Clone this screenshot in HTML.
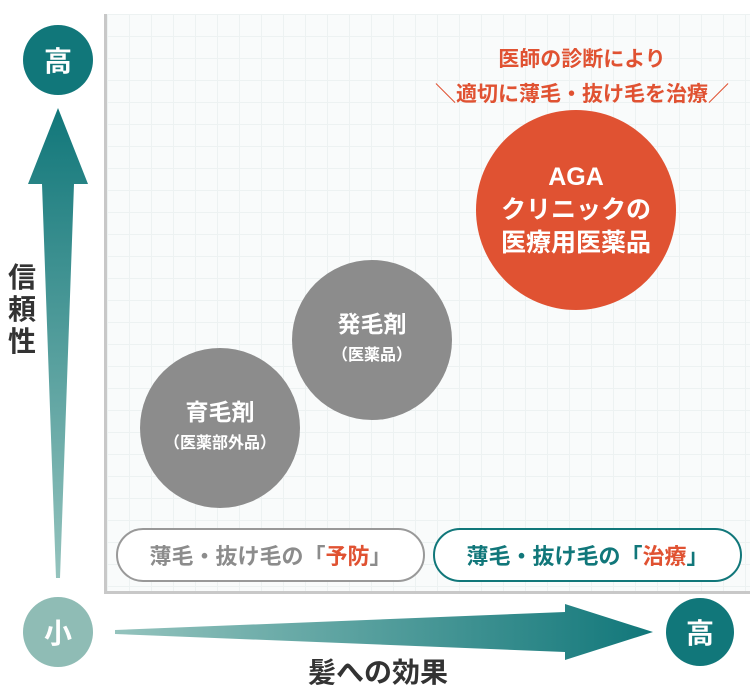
<!DOCTYPE html>
<html><head><meta charset="utf-8"><style>
body{margin:0;width:750px;height:695px;background:#fff;position:relative;overflow:hidden;font-family:"Liberation Sans","Noto Sans CJK JP",sans-serif;font-weight:700}
.a{position:absolute}
.panel{left:104px;top:14px;width:646px;height:577px;background-color:#f9fbfb;background-image:linear-gradient(#edf2f2 1px,transparent 1px),linear-gradient(90deg,#edf2f2 1px,transparent 1px);background-size:22px 22px;border-left:3px solid #c8c8c8;border-bottom:3px solid #c8c8c8}
.c{border-radius:50%;display:flex;flex-direction:column;align-items:center;justify-content:center;color:#fff;text-align:center}
.pill{border-radius:27px;display:flex;align-items:center;justify-content:center;font-size:22px;box-sizing:border-box;background:#fff}
</style></head><body>
<div class="a panel"></div>
<div class="a c" style="left:23px;top:25px;width:70px;height:70px;background:#11777a;font-size:28px">高</div>
<svg class="a" style="left:0;top:0" width="750" height="695">
<defs>
<linearGradient id="gv" x1="0" y1="0" x2="0" y2="1"><stop offset="0" stop-color="#11777a"/><stop offset="1" stop-color="#94c3bd"/></linearGradient>
<linearGradient id="gh" x1="0" y1="0" x2="1" y2="0"><stop offset="0" stop-color="#94c3bd"/><stop offset="1" stop-color="#11777a"/></linearGradient>
</defs>
<polygon points="58,108 88,184 74,184 60,578 56,578 42,184 28,184" fill="url(#gv)"/>
<polygon points="115,630 565,612 565,604 653,632 565,660 565,652 115,634" fill="url(#gh)"/>
</svg>
<div class="a" style="left:6px;top:262px;width:32px;font-size:28px;line-height:32px;color:#333;text-align:center">信<br>頼<br>性</div>
<div class="a c" style="left:23px;top:597px;width:70px;height:70px;background:#8fbcb5;font-size:28px">小</div>
<div class="a c" style="left:666px;top:598px;width:68px;height:68px;background:#11777a;font-size:28px">高</div>
<div class="a" style="left:268px;top:651px;width:220px;text-align:center;font-size:28px;color:#333">髪への効果</div>
<div class="a" style="left:402px;top:42px;width:360px;text-align:center;font-size:21px;color:#e05232;line-height:35px">医師の診断により<br>＼適切に薄毛・抜け毛を治療／</div>
<div class="a c" style="left:476px;top:110px;width:200px;height:200px;background:#e05232;font-size:25px;line-height:33px">AGA<br>クリニックの<br>医療用医薬品</div>
<div class="a c" style="left:292px;top:260px;width:160px;height:160px;background:#8c8c8c;font-size:23px;line-height:32px">発毛剤<br><span style="font-size:16px">（医薬品）</span></div>
<div class="a c" style="left:140px;top:348px;width:160px;height:160px;background:#8c8c8c;font-size:23px;line-height:32px">育毛剤<br><span style="font-size:16px">（医薬部外品）</span></div>
<div class="a pill" style="left:116px;top:528px;width:309px;height:54px;border:2px solid #999;color:#8c8c8c">薄毛・抜け毛の「<span style="color:#e05232">予防</span>」</div>
<div class="a pill" style="left:433px;top:528px;width:309px;height:54px;border:2px solid #11777a;color:#11777a">薄毛・抜け毛の「<span style="color:#e05232">治療</span>」</div>
</body></html>
